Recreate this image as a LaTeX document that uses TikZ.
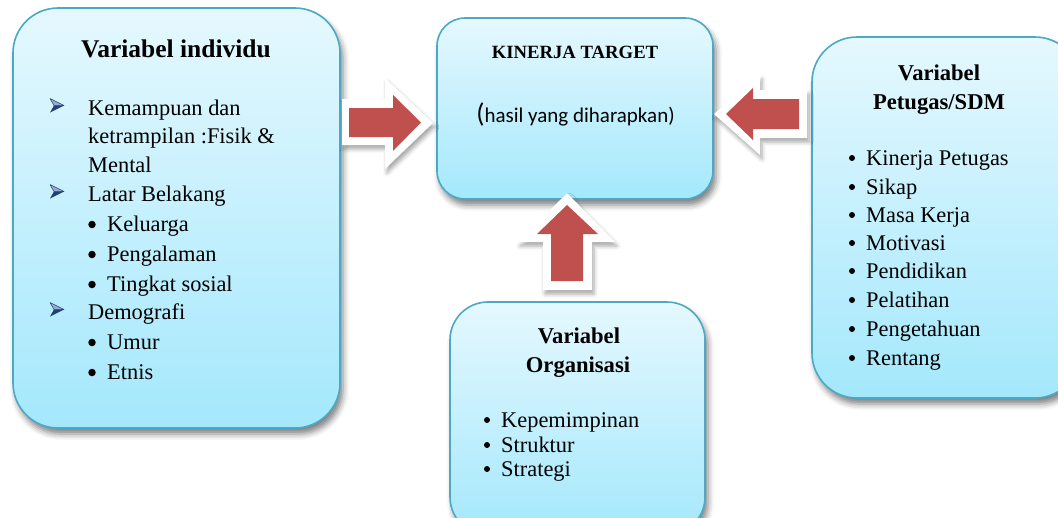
\documentclass[tikz,border=0pt]{standalone}
\usepackage{fontspec}
\setmainfont{Liberation Serif}
\newfontfamily\calib{Carlito}
\usetikzlibrary{shadows.blur}
\definecolor{boxline}{RGB}{75,168,198}
\definecolor{boxtop}{RGB}{229,248,254}
\definecolor{boxbot}{RGB}{164,232,252}
\definecolor{arrred}{RGB}{192,80,77}
\definecolor{navy}{RGB}{36,62,118}
\definecolor{lightnavy}{RGB}{150,172,210}
\begin{document}
\begin{tikzpicture}[x=1pt,y=-1pt,
  panel/.style={draw=boxline, line width=1.6pt, top color=boxtop, bottom color=boxbot,
    blur shadow={shadow xshift=3pt, shadow yshift=-6pt, shadow blur radius=6pt, shadow opacity=50}, inner sep=0pt},
  txt/.style={anchor=base west, inner sep=0pt, font=\fontsize{22.4}{26}\selectfont},
  ttl/.style={anchor=base, inner sep=0pt, font=\fontsize{22.6}{26}\selectfont\bfseries},
  dot/.style={circle, fill=black, inner sep=0pt, minimum size=6pt},
  bigdot/.style={circle, fill=black, inner sep=0pt, minimum size=7.5pt},
  bulletdart/.pic={
    \fill[lightnavy, draw=navy, line width=0.5pt, line join=round] (-7,-7) -- (7,0) -- (-3,0) -- cycle;
    \fill[navy] (-3,0) -- (7,0) -- (-7,7) -- cycle;
  },
  outlinearrow/.style={fill=white, blur shadow={shadow xshift=2pt, shadow yshift=-4pt, shadow blur radius=4pt, shadow opacity=35}},
  redarrow/.style={fill=arrred}
]
\useasboundingbox (0,0) rectangle (1058,517);

% panels
\node[panel, rounded corners=45pt, minimum width=327pt, minimum height=420pt] (indiv) at (176.5,218) {};
\node[panel, rounded corners=28pt, minimum width=276pt, minimum height=181pt] (target) at (575,108.5) {};
\node[panel, rounded corners=38pt, minimum width=255pt, minimum height=233pt] (org) at (577.5,418.5) {};
\node[panel, rounded corners=45pt, minimum width=268pt, minimum height=361pt] (sdm) at (946,217.5) {};

% block arrows: left -> target
\fill[outlinearrow] (342,99) -- (385,99) -- (385,78) -- (433,123) -- (385,169) -- (385,145) -- (342,145) -- cycle;
\fill[redarrow] (349,108) -- (393,108) -- (393,95) -- (421,122.5) -- (393,151) -- (393,137) -- (349,137) -- cycle;
% right -> target
\fill[outlinearrow] (807,90) -- (760,90) -- (760,75) -- (714,114) -- (760,155) -- (760,138) -- (807,138) -- cycle;
\fill[redarrow] (799,99) -- (753,99) -- (753,88) -- (726,114) -- (753,140) -- (753,129) -- (799,129) -- cycle;
% bottom -> target
\fill[outlinearrow] (543,290) -- (543,242) -- (518,242) -- (567,193) -- (615,242) -- (592,242) -- (592,290) -- cycle;
\fill[redarrow] (551,281) -- (551,234) -- (537,234) -- (567,205) -- (598,234) -- (583,234) -- (583,281) -- cycle;

% left panel text
\node[ttl, font=\fontsize{25.5}{30}\selectfont\bfseries] (t1) at (176,57) {Variabel individu};
\pic at (57,105.5) {bulletdart};
\node[txt] (l1) at (88,115) {Kemampuan dan};
\node[txt] (l2) at (88,143) {ketrampilan :Fisik \&};
\node[txt] (l3) at (88,172) {Mental};
\pic at (57,191.5) {bulletdart};
\node[txt] (l4) at (88,201) {Latar Belakang};
\node[bigdot] (b1) at (92,224.5) {};
\node[txt] (l5) at (107,231) {Keluarga};
\node[bigdot] (b2) at (92,254.5) {};
\node[txt] (l6) at (107,261) {Pengalaman};
\node[bigdot] (b3) at (92,284.5) {};
\node[txt] (l7) at (107,291) {Tingkat sosial};
\pic at (57,309.5) {bulletdart};
\node[txt] (l8) at (88,319) {Demografi};
\node[bigdot] (b4) at (92,342.5) {};
\node[txt] (l9) at (107,349) {Umur};
\node[bigdot] (b5) at (92,372.5) {};
\node[txt] (l10) at (107,379) {Etnis};

% target text
\node[ttl, font=\fontsize{18.7}{22}\selectfont\bfseries] (t2) at (575,58) {KINERJA TARGET};
\node[anchor=base, inner sep=0pt, font=\calib\fontsize{21}{25}\selectfont] (t3) at (575.5,122) {{\fontsize{27}{30}\selectfont(}hasil yang diharapkan)};

% right panel text
\node[ttl] (t4) at (939,80) {Variabel};
\node[ttl] (t5) at (939,109) {Petugas/SDM};
\node[dot] (rb1) at (852,158) {};
\node[txt] (r1) at (866,165) {Kinerja Petugas};
\node[dot] (rb2) at (852,187) {};
\node[txt] (r2) at (866,194) {Sikap};
\node[dot] (rb3) at (852,215) {};
\node[txt] (r3) at (866,222) {Masa Kerja};
\node[dot] (rb4) at (852,243) {};
\node[txt] (r4) at (866,250) {Motivasi};
\node[dot] (rb5) at (852,271) {};
\node[txt] (r5) at (866,278) {Pendidikan};
\node[dot] (rb6) at (852,300) {};
\node[txt] (r6) at (866,307) {Pelatihan};
\node[dot] (rb7) at (852,329) {};
\node[txt] (r7) at (866,336) {Pengetahuan};
\node[dot] (rb8) at (852,358) {};
\node[txt] (r8) at (866,365) {Rentang};

% bottom panel text
\node[ttl] (t6) at (579,343) {Variabel};
\node[ttl] (t7) at (578,372) {Organisasi};
\node[dot] (ob1) at (487,420) {};
\node[txt] (o1) at (501,427) {Kepemimpinan};
\node[dot] (ob2) at (487,445) {};
\node[txt] (o2) at (501,452) {Struktur};
\node[dot] (ob3) at (487,469) {};
\node[txt] (o3) at (501,476) {Strategi};
\end{tikzpicture}
\end{document}
